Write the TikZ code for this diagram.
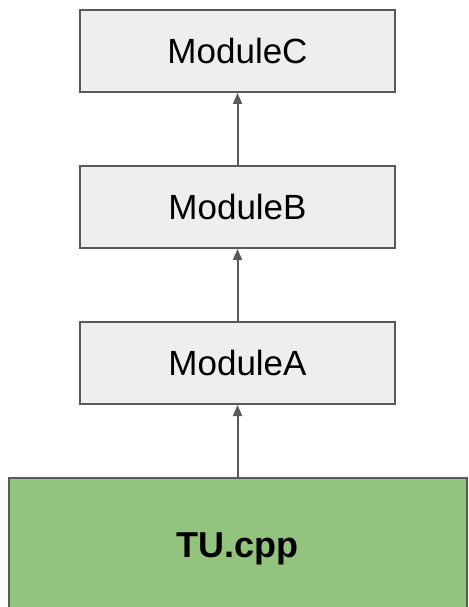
\documentclass[tikz,border=0pt]{standalone}
\usepackage{fontspec}
\setmainfont{Liberation Sans}
\usetikzlibrary{arrows.meta,positioning}
\definecolor{modfill}{HTML}{EEEEEE}
\definecolor{tufill}{HTML}{93C47D}
\definecolor{edge}{HTML}{595959}
\tikzset{
	modbox/.style={draw=edge,line width=2pt,fill=modfill,minimum width=315pt,minimum height=82pt,font=\fontsize{35}{42}\selectfont},
	tubox/.style={draw=edge,line width=2pt,fill=tufill,minimum width=458pt,minimum height=134pt,text depth=0pt,font=\fontsize{36}{43}\selectfont\bfseries},
	dep/.style={draw=edge,line width=2pt,-{Triangle[width=9pt,length=11pt]}},
}

\begin{document}
\begin{tikzpicture}[node distance=72pt]
	\useasboundingbox (0pt,0pt) rectangle (468pt,-607pt);
	\node (modC) at (237.5pt,-51pt) [modbox] {ModuleC};
	\node (modB) [modbox,below=of modC] {ModuleB};
	\node (modA) [modbox,below=of modB] {ModuleA};
	\node (tu) [tubox,below=of modA] {TU.cpp};
	
	\draw[dep] (tu) -- (modA);
	\draw[dep] (modA) -- (modB);
	\draw[dep] (modB) -- (modC);
\end{tikzpicture}
\end{document}
